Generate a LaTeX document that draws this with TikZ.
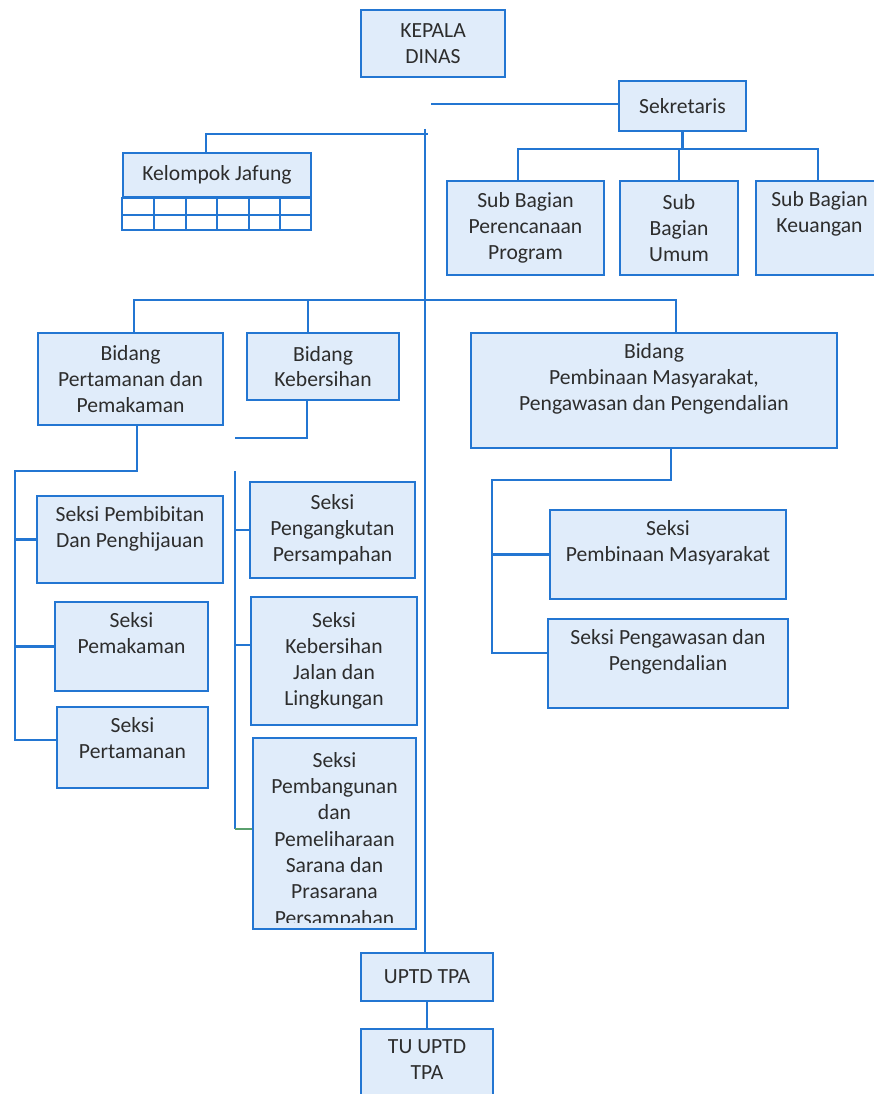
\documentclass[tikz,border=0pt]{standalone}
\usepackage{fontspec}
\setmainfont{Carlito}
\definecolor{orgline}{RGB}{35,118,210}
\definecolor{orgfill}{RGB}{224,236,250}
\definecolor{orgtext}{RGB}{45,45,45}
\definecolor{orggreen}{RGB}{90,160,110}
\newcommand{\midtext}[3]{\parbox[c][#2][c]{#1}{\centering #3}}
\newcommand{\toptext}[3]{\parbox[c][#2][t]{#1}{\centering\vspace*{6pt}#3}}
\tikzset{
	unit/.style={draw=orgline, fill=orgfill, line width=1.5pt, inner sep=0pt,
		font=\fontsize{12.3}{14.7}\selectfont, text=orgtext},
	conn/.style={draw=orgline, line width=1.35pt},
}

\begin{document}
\begin{tikzpicture}[x=0.02cm, y=-0.02cm]
		\fill[white] (0,0) rectangle (873,1094);
		\useasboundingbox (0,0) rectangle (873,1094);

		% pimpinan
		\node[unit] (kepala) at (433,43.5) {\midtext{2.88cm}{1.34cm}{KEPALA\\DINAS}};
		\node[unit] (sekretaris) at (682.5,106) {\midtext{2.54cm}{1.00cm}{Sekretaris}};
		\node[unit] (jafung) at (217,175) {\midtext{3.76cm}{0.88cm}{Kelompok Jafung}};

		% sub bagian
		\node[unit] (subprog) at (525.5,228) {\midtext{3.14cm}{1.88cm}{Sub Bagian\\Perencanaan\\Program}};
		\node[unit] (subumum) at (679,228) {\midtext{2.36cm}{1.88cm}{Sub\\Bagian\\Umum}};
		\node[unit] (subkeu) at (819.5,228) {\toptext{2.54cm}{1.88cm}{Sub Bagian\\Keuangan}};

		% bidang
		\node[unit] (bidangpt) at (130.5,379) {\midtext{3.70cm}{1.84cm}{Bidang\\Pertamanan dan\\Pemakaman}};
		\node[unit] (kebersihan) at (323,366.5) {\midtext{3.04cm}{1.34cm}{Bidang\\Kebersihan}};
		\node[unit] (bidangpm) at (654,390.5) {\toptext{7.32cm}{2.30cm}{Bidang\\Pembinaan Masyarakat,\\Pengawasan dan Pengendalian}};

		% seksi
		\node[unit] (pembibitan) at (130,539.5) {\toptext{3.72cm}{1.74cm}{Seksi Pembibitan\\Dan Penghijauan}};
		\node[unit] (pemakaman) at (131.5,646.5) {\toptext{3.06cm}{1.78cm}{Seksi\\Pemakaman}};
		\node[unit] (pertamanan) at (132.5,747.5) {\toptext{3.02cm}{1.62cm}{Seksi\\Pertamanan}};
		\node[unit] (pengangkutan) at (332.5,530) {\midtext{3.30cm}{1.92cm}{Seksi\\Pengangkutan\\Persampahan}};
		\node[unit] (kebjalan) at (334,661) {\midtext{3.32cm}{2.56cm}{Seksi\\Kebersihan\\Jalan dan\\Lingkungan}};
		\node[unit, minimum width=3.26cm, minimum height=3.82cm] (pembangunan) at (334.5,833.5) {};
		\begin{scope}
			\clip ([yshift=4.5pt]pembangunan.south west) rectangle (pembangunan.north east);
			\node[unit, draw=none, fill=none, anchor=north, font=\fontsize{12.3}{15}\selectfont] (pembangunantext) at (pembangunan.north)
				{\parbox[t]{3.26cm}{\centering\vspace*{8pt}Seksi\\Pembangunan\\dan\\Pemeliharaan\\Sarana dan\\Prasarana\\Persampahan}};
		\end{scope}
		\node[unit] (sekmasy) at (668,554.5) {\toptext{4.72cm}{1.78cm}{Seksi\\Pembinaan Masyarakat}};
		\node[unit] (sekpengawasan) at (668,663.5) {\toptext{4.80cm}{1.78cm}{Seksi Pengawasan dan\\Pengendalian}};

		% uptd
		\node[unit] (uptd) at (427,977) {\midtext{2.64cm}{0.96cm}{UPTD TPA}};
		\node[unit] (tuuptd) at (427,1064.5) {\toptext{2.64cm}{1.42cm}{TU UPTD\\TPA}};

		% kotak kosong jafung
		\draw[orgline, fill=white, line width=1.35pt] (jafung.south west) rectangle (311,230);
		\draw[conn] (123,215) -- (311,215);
		\draw[conn] (154,197) -- (154,230);
		\draw[conn] (186,197) -- (186,230);
		\draw[conn] (217,197) -- (217,230);
		\draw[conn] (249,197) -- (249,230);
		\draw[conn] (280,197) -- (280,230);

		% garis utama
		\coordinate (maintop) at (425,129);
		\coordinate (tick) at (428,134);
		\coordinate (jf) at (206,134);
		\draw[conn] (maintop) -- (maintop |- uptd.north);
		\draw[conn] (jf |- jafung.north) -- (jf) -- (tick);
		\draw[conn] (uptd.south) -- (tuuptd.north);

		% sekretaris
		\coordinate (sekline) at (431,104);
		\coordinate (sprog) at (518,149);
		\coordinate (skeu) at (818,149);
		\draw[conn] (sekline -| sekretaris.west) -- (sekline);
		\draw[conn] (sekretaris.south) -- (sekretaris.south |- sprog);
		\draw[conn] (sprog |- subprog.north) -- (sprog) -- (skeu) -- (skeu |- subkeu.north);
		\draw[conn] (subumum.north) -- (subumum.north |- sprog);

		% bidang
		\coordinate (bpt) at (134,300);
		\coordinate (bkeb) at (308,300);
		\coordinate (bpm) at (676,300);
		\draw[conn] (bpt |- bidangpt.north) -- (bpt) -- (bpm) -- (bpm |- bidangpm.north);
		\draw[conn] (bkeb) -- (bkeb |- kebersihan.north);

		% seksi pertamanan
		\coordinate (pt1) at (137,471);
		\coordinate (pt2) at (15,471);
		\coordinate (pt3) at (15,740);
		\draw[conn] (pt1 |- bidangpt.south) -- (pt1) -- (pt2) -- (pt3) -- (pt3 -| pertamanan.west);
		\draw[conn] (pt2 |- pembibitan.west) -- (pembibitan.west);
		\draw[conn] (pt2 |- pemakaman.west) -- (pemakaman.west);

		% seksi kebersihan
		\coordinate (kb0) at (307,438);
		\coordinate (kb1) at (235,438);
		\coordinate (kb2) at (235,471);
		\coordinate (kb3) at (235,829);
		\coordinate (kbj) at (235,645);
		\draw[conn] (kb0 |- kebersihan.south) -- (kb0) -- (kb1);
		\draw[conn] (kb2) -- (kb3);
		\draw[conn, draw=orggreen] (kb3) -- (kb3 -| pembangunan.west);
		\draw[conn] (kb2 |- pengangkutan.west) -- (pengangkutan.west);
		\draw[conn] (kbj) -- (kbj -| kebjalan.west);

		% seksi pembinaan
		\coordinate (pm0) at (671,480);
		\coordinate (pm1) at (492,480);
		\coordinate (pm2) at (492,653);
		\draw[conn] (pm0 |- bidangpm.south) -- (pm0) -- (pm1) -- (pm2) -- (pm2 -| sekpengawasan.west);
		\draw[conn] (pm1 |- sekmasy.west) -- (sekmasy.west);
	\end{tikzpicture}
\end{document}
